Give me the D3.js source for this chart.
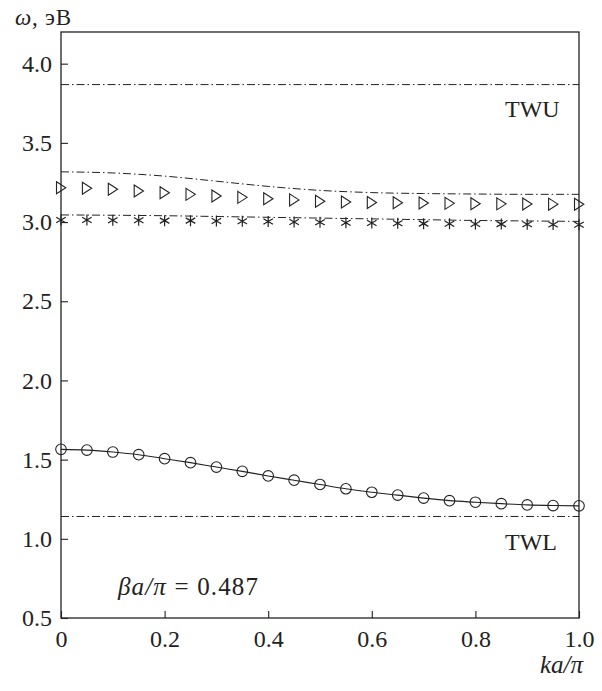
<!DOCTYPE html>
<html><head><meta charset="utf-8">
<script src="https://cdn.jsdelivr.net/npm/d3@7"></script>
<style>body{margin:0;background:#fff}</style>
</head><body>
<svg id="chart" width="602" height="691"></svg>
<script>
// ---- data ----
const kaPoints = [0,0.05,0.1,0.15,0.2,0.25,0.3,0.35,0.4,0.45,0.5,0.55,0.6,0.65,0.7,0.75,0.8,0.85,0.9,0.95,1.0];
const circleValues = [1.565,1.560,1.548,1.531,1.506,1.481,1.453,1.426,1.397,1.370,1.343,1.316,1.294,1.276,1.257,1.241,1.231,1.222,1.214,1.210,1.208];
const triangleValues = [3.217,3.213,3.207,3.196,3.185,3.175,3.164,3.156,3.147,3.140,3.131,3.127,3.124,3.122,3.120,3.118,3.116,3.115,3.114,3.113,3.112];
const asteriskValues = [3.013,3.013,3.011,3.011,3.009,3.009,3.007,3.005,3.003,3.001,2.999,2.996,2.994,2.992,2.990,2.989,2.988,2.987,2.986,2.985,2.983];
const curveKa = [0,0.1,0.2,0.3,0.4,0.5,0.6,0.7,0.8,0.9,1.0];
const upperCurve = [3.317,3.310,3.290,3.258,3.225,3.200,3.186,3.180,3.177,3.175,3.175];
const lowerCurve = [3.045,3.043,3.040,3.035,3.030,3.025,3.020,3.015,3.010,3.007,3.004];
const twuValue = 3.868;
const twlValue = 1.141;
const yTicks = [0.5,1.0,1.5,2.0,2.5,3.0,3.5,4.0];
const xTicks = [0,0.2,0.4,0.6,0.8,1.0];
const xTickLabels = ["0","0.2","0.4","0.6","0.8","1.0"];

// ---- layout ----
const svg = d3.select("#chart");
const L = 61, R = 579, T = 32, B = 618;
const x = d3.scaleLinear().domain([0,1]).range([L,R]);
const y = d3.scaleLinear().domain([0.5,4.2]).range([B,T]);
const ink = "#222";
const font = "'Liberation Serif', 'Times New Roman', serif";
const dash = "8,3,1.5,3";

// axes
const yAxis = d3.axisLeft(y).tickValues(yTicks).tickSize(-7).tickPadding(9).tickFormat(d3.format(".1f"));
const xAxis = d3.axisBottom(x).tickValues(xTicks).tickSize(-7).tickPadding(12).tickFormat((d,i)=>xTickLabels[i]);
const gy = svg.append("g").attr("transform",`translate(${L},0)`).call(yAxis);
const gx = svg.append("g").attr("transform",`translate(0,${B})`).call(xAxis);
[gx,gy].forEach(g=>{
  g.select(".domain").remove();
  g.selectAll("line").attr("stroke",ink).attr("stroke-width",1.1);
  g.selectAll("text").attr("fill",ink).style("font-family",font).style("font-size","24px");
});

// frame
svg.append("rect").attr("x",L).attr("y",T).attr("width",R-L).attr("height",B-T)
  .attr("fill","none").attr("stroke",ink).attr("stroke-width",1.3);

// horizontal TW lines
[twuValue,twlValue].forEach(v=>{
  svg.append("line").attr("x1",x(0)).attr("x2",x(1)).attr("y1",y(v)).attr("y2",y(v))
    .attr("stroke",ink).attr("stroke-width",1).attr("stroke-dasharray",dash);
});

// dash-dot curves
const curveLine = d3.line().x((d,i)=>x(curveKa[i])).y(d=>y(d)).curve(d3.curveMonotoneX);
[upperCurve,lowerCurve].forEach(arr=>{
  svg.append("path").attr("d",curveLine(arr)).attr("fill","none")
    .attr("stroke",ink).attr("stroke-width",1).attr("stroke-dasharray",dash);
});

// solid line through circles
const solidLine = d3.line().x((d,i)=>x(kaPoints[i])).y(d=>y(d)).curve(d3.curveMonotoneX);
svg.append("path").attr("d",solidLine(circleValues)).attr("fill","none").attr("stroke",ink).attr("stroke-width",1.1);

// circles
svg.append("g").selectAll("circle").data(circleValues).join("circle")
  .attr("cx",(d,i)=>x(kaPoints[i])).attr("cy",d=>y(d)).attr("r",5.3)
  .attr("fill","none").attr("stroke",ink).attr("stroke-width",1.1);

// triangles
svg.append("g").selectAll("path").data(triangleValues).join("path")
  .attr("transform",(d,i)=>`translate(${x(kaPoints[i])},${y(d)})`)
  .attr("d","M-4.5,-6L4.8,0L-4.5,6Z")
  .attr("fill","none").attr("stroke",ink).attr("stroke-width",1.1).attr("stroke-linejoin","miter");

// asterisks
const ast = (()=>{const r=5.5;let p="";[90,30,-30].forEach(a=>{const t=a*Math.PI/180;const dx=r*Math.cos(t),dy=r*Math.sin(t);p+=`M${-dx},${-dy}L${dx},${dy}`;});return p;})();
svg.append("g").selectAll("path").data(asteriskValues).join("path")
  .attr("transform",(d,i)=>`translate(${x(kaPoints[i])},${y(d)})`)
  .attr("d",ast).attr("fill","none").attr("stroke",ink).attr("stroke-width",1.2);

// texts
const txt = (tx,ty,size)=>svg.append("text").attr("x",tx).attr("y",ty).attr("fill",ink)
  .style("font-family",font).style("font-size",size+"px");
txt(505,117,24).text("TWU");
txt(505,550,24).text("TWL");
const beta = txt(118,595,25).attr("textLength",140).attr("lengthAdjust","spacing");
beta.append("tspan").style("font-style","italic").text("βa/π");
beta.append("tspan").text(" = 0.487");
const yl = txt(15,25,23).attr("textLength",56).attr("lengthAdjust","spacing");
yl.append("tspan").style("font-style","italic").text("ω");
yl.append("tspan").text(", эВ");
txt(583,673,25).attr("text-anchor","end").style("font-style","italic").text("ka/π");
</script>
</body></html>
